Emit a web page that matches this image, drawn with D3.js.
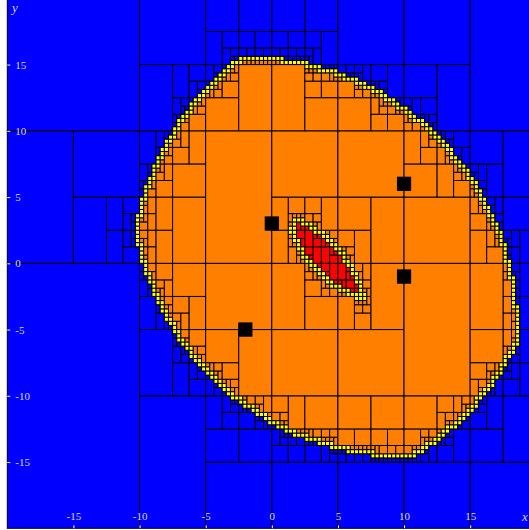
<!DOCTYPE html>
<html>
<head>
<meta charset="utf-8">
<script src="https://cdn.jsdelivr.net/npm/d3@7"></script>
<style>
  body { margin: 0; background: #fff; }
  .tick text { font-family: "Liberation Serif", "DejaVu Serif", serif; font-size: 11px; fill: #d8d8ff; }
  .tick line { stroke: #fff; }
  .axLabel { font-family: "Liberation Serif", "DejaVu Serif", serif; font-style: italic; font-size: 13px; fill: #d8d8ff; }
</style>
</head>
<body>
<div id="chart"></div>
<script>
// Landmarks (black squares)
let landmarkX = [0, 10, 10, -2];
let landmarkY = [3, 6, -1, -5];

// Radii of the two sets: every landmark within r
let outerRadius = 20.5;
let innerRadius = 9.25;

// Search box and precision of the paving
let boxX = [-20, 20];
let boxY = [-20, 20];
let epsilon = 0.4;

let tickValues = [-15, -10, -5, 0, 5, 10, 15];

let colors = {
    out: '#0000ff',
    outer: '#ff8000',
    inner: '#ff0000',
    boundary: '#ffff00'
};

let svgWidth = 529, svgHeight = 530;

let svg = d3.select('#chart')
            .append('svg')
            .attr('width', svgWidth)
            .attr('height', svgHeight);

let xScale = d3.scaleLinear().domain(boxX).range([7.3, 536.3]);
let yScale = d3.scaleLinear().domain(boxY).range([528.3, -1.7]);

// interval helpers
function sqr(a, b) {
    if (a >= 0) return [a * a, b * b];
    if (b <= 0) return [b * b, a * a];
    return [0, Math.max(a * a, b * b)];
}

// 0 = outside, 1 = inside, 2 = unknown
function test(b, r) {
    let r2 = r * r, unknown = false;
    for (let i = 0; i < landmarkX.length; i++) {
        let dx = sqr(b[0] - landmarkX[i], b[1] - landmarkX[i]);
        let dy = sqr(b[2] - landmarkY[i], b[3] - landmarkY[i]);
        let lo = dx[0] + dy[0], hi = dx[1] + dy[1];
        if (lo > r2) return 0;
        if (hi > r2) unknown = true;
    }
    return unknown ? 2 : 1;
}

// SIVIA
let boxes = [];
function sivia(b) {
    let o = test(b, outerRadius);
    if (o === 0) { boxes.push({b: b, c: colors.out}); return; }
    let r = test(b, innerRadius);
    if (r === 1) { boxes.push({b: b, c: colors.inner}); return; }
    if (o === 1 && r === 0) { boxes.push({b: b, c: colors.outer}); return; }
    let w = b[1] - b[0], h = b[3] - b[2];
    if (Math.max(w, h) < epsilon) { boxes.push({b: b, c: colors.boundary}); return; }
    if (w >= h) {
        let m = (b[0] + b[1]) / 2;
        sivia([b[0], m, b[2], b[3]]);
        sivia([m, b[1], b[2], b[3]]);
    } else {
        let m = (b[2] + b[3]) / 2;
        sivia([b[0], b[1], b[2], m]);
        sivia([b[0], b[1], m, b[3]]);
    }
}
sivia([boxX[0], boxX[1], boxY[0], boxY[1]]);

svg.append('g')
    .selectAll('rect')
    .data(boxes)
    .enter()
    .append('rect')
    .attr('x', d => xScale(d.b[0]))
    .attr('y', d => yScale(d.b[3]))
    .attr('width', d => xScale(d.b[1]) - xScale(d.b[0]))
    .attr('height', d => yScale(d.b[2]) - yScale(d.b[3]))
    .attr('fill', d => d.c)
    .attr('stroke', '#000')
    .attr('stroke-width', 1);

// landmarks
svg.append('g')
    .selectAll('rect')
    .data(landmarkX)
    .enter()
    .append('rect')
    .attr('x', (d, i) => xScale(d - 0.5))
    .attr('y', (d, i) => yScale(landmarkY[i] + 0.5))
    .attr('width', xScale(1) - xScale(0))
    .attr('height', yScale(0) - yScale(1))
    .attr('fill', '#000')
    .attr('stroke', '#000');

// axes, ticks inside the frame
let xAxis = d3.axisTop(xScale).tickValues(tickValues).tickSize(3).tickPadding(5).tickFormat(d => String(d));
let yAxis = d3.axisRight(yScale).tickValues(tickValues).tickSize(3).tickPadding(5).tickFormat(d => String(d));

let gx = svg.append('g').attr('transform', `translate(0, ${yScale(boxY[0])})`).call(xAxis);
let gy = svg.append('g').attr('transform', `translate(${xScale(boxX[0])}, 0)`).call(yAxis);
gx.select('.domain').remove();
gy.select('.domain').remove();

svg.append('text').attr('class', 'axLabel').attr('x', 12).attr('y', 12).text('y');
svg.append('text').attr('class', 'axLabel').attr('x', 522).attr('y', 521).text('x');
</script>
</body>
</html>
